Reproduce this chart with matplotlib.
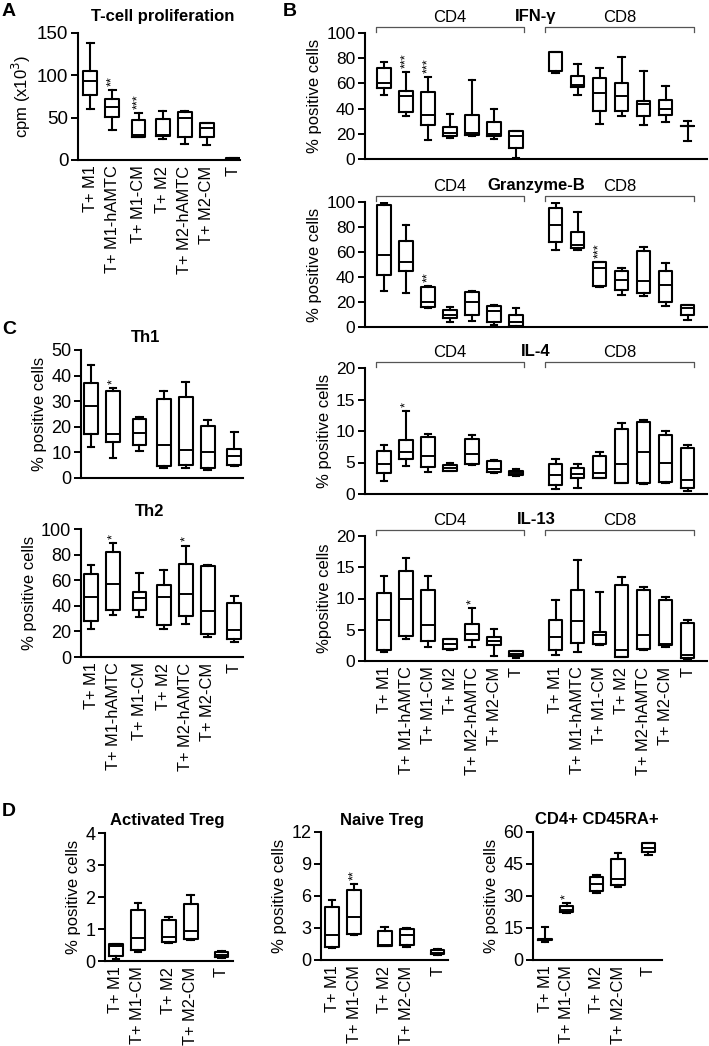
import matplotlib
matplotlib.use("Agg")
import matplotlib.pyplot as plt
import matplotlib.transforms as mtransforms

plt.rcParams['font.family'] = ['Liberation Sans', 'DejaVu Sans']

W, H = 709, 1046

# labels
groups7 = ["T+ M1", "T+ M1-hAMTC", "T+ M1-CM", "T+ M2", "T+ M2-hAMTC", "T+ M2-CM", "T"]
groups5 = ["T+ M1", "T+ M1-CM", "T+ M2", "T+ M2-CM", "T"]

# box stats: (whisker low, q1, median, q3, whisker high)
prolif = [(60, 77, 93, 105, 138), (35, 51, 63, 72, 83), (27, 27, 29, 47, 55),
          (25, 28, 29, 48, 58), (19, 27, 50, 57, 58), (18, 27, 38, 44, 44), (0.5, 1, 1.5, 2, 2)]
prolif_stars = {1: "**", 2: "***"}

ifng_cd4 = [(51, 56, 60, 72, 77), (34, 37, 50, 54, 69), (15, 27, 35, 53, 65),
            (17, 18, 21, 25, 36), (18, 19, 21, 35, 63), (16, 18, 20, 29, 40), (1, 9, 18, 22, 22)]
ifng_cd8 = [(68, 70, 70, 85, 85), (51, 57, 59, 66, 75), (28, 38, 52, 64, 72),
            (34, 38, 50, 60, 81), (27, 34, 44, 46, 70), (29, 35, 40, 47, 58), (14, 26, 26, 26, 30)]
ifng_stars = {1: "***", 2: "***"}

grb_cd4 = [(29, 42, 58, 98, 99), (27, 45, 52, 69, 82), (15, 16, 20, 32, 33),
           (4, 7, 10, 14, 16), (5, 10, 20, 28, 29), (2, 4, 13, 17, 18), (0, 1, 4, 10, 15)]
grb_cd8 = [(62, 68, 82, 95, 99), (62, 63, 66, 76, 92), (32, 33, 47, 52, 52),
           (26, 30, 38, 45, 47), (25, 27, 37, 61, 64), (17, 20, 34, 45, 51), (6, 10, 15, 18, 18)]
grb_stars = {2: "**", 9: "***"}

il4_cd4 = [(2, 3.3, 4.8, 6.8, 7.7), (4.5, 5.5, 6.6, 8.6, 13.2), (3.5, 4.3, 6.1, 9.1, 9.6),
           (3.6, 3.7, 4.1, 4.6, 4.9), (4.6, 4.8, 6.3, 8.8, 9.4), (3.4, 3.5, 4.0, 5.2, 5.4),
           (2.9, 3.0, 3.3, 3.7, 3.9)]
il4_cd8 = [(0.8, 1.5, 3.0, 4.7, 5.5), (0.9, 2.5, 3.2, 4.2, 4.8), (2.5, 2.5, 3.3, 6.0, 6.6),
           (1.8, 1.8, 4.8, 10.3, 11.2), (1.6, 1.7, 6.7, 11.5, 11.7), (1.8, 1.9, 5.0, 9.3, 10.0),
           (0.5, 0.9, 2.3, 7.3, 7.7)]
il4_stars = {1: "*"}

il13_cd4 = [(1.5, 1.8, 6.6, 10.9, 13.6), (3.6, 4.0, 10.0, 14.4, 16.5), (2.2, 3.2, 5.8, 11.3, 13.6),
            (1.8, 2.0, 2.7, 3.5, 3.5), (2.2, 3.4, 4.4, 5.9, 8.5), (0.8, 2.5, 3.2, 3.9, 5.1),
            (0.5, 0.8, 1.2, 1.6, 1.6)]
il13_cd8 = [(1.0, 1.7, 3.8, 6.5, 9.7), (1.5, 2.9, 6.4, 11.3, 16.2), (2.6, 2.8, 4.2, 4.7, 11.0),
            (0.7, 0.7, 1.8, 12.1, 13.4), (1.7, 2.0, 4.1, 11.4, 11.8), (2.2, 2.6, 2.8, 9.7, 10.3),
            (0.2, 0.5, 1.0, 6.1, 6.5)]
il13_stars = {4: "*"}

th1 = [(12, 17, 28, 37, 44), (8, 14, 17, 34, 35), (10.5, 13, 17.5, 23, 24), (4, 4.5, 13, 31, 34),
       (4, 5, 11, 31.5, 37.5), (3, 4, 10, 20.5, 22.5), (4.5, 5, 8.5, 11.5, 18)]
th1_stars = {1: "*"}

th2 = [(22, 28, 47, 65, 72), (33, 37, 57, 82, 89), (31, 37, 46, 51, 66), (22, 25, 47, 56, 68),
       (26, 32, 49, 73, 87), (16, 18, 36, 71, 72), (12, 14, 21, 42, 48)]
th2_stars = {1: "*", 4: "*"}

act_treg = [(0.07, 0.15, 0.48, 0.52, 0.52), (0.28, 0.33, 0.73, 1.6, 1.81), (0.57, 0.59, 0.75, 1.29, 1.375),
            (0.65, 0.7, 0.94, 1.79, 2.06), (0.1, 0.125, 0.18, 0.27, 0.31)]
naive_treg = [(1.1, 1.2, 2.3, 5.0, 5.6), (2.3, 2.4, 4.0, 6.6, 7.1), (1.3, 1.3, 1.4, 2.7, 3.1),
              (1.2, 1.4, 2.3, 2.9, 3.0), (0.5, 0.55, 0.7, 0.9, 1.05)]
naive_stars = {1: "**"}
cd45ra = [(8.5, 9.5, 9.8, 10, 15.5), (22, 22.5, 23.5, 25.5, 26.5), (31.5, 32.5, 35.5, 39, 40),
          (34, 35, 38, 47.5, 50), (49, 50.5, 52.5, 55, 55)]
cd45ra_stars = {1: "*"}

pos7 = [1, 2, 3.2, 4.3, 5.3, 6.3, 7.5]
pos14 = [1, 2, 3, 4, 5, 6, 7, 8.8, 9.8, 10.8, 11.8, 12.8, 13.8, 14.8]
pos5 = [1, 2, 3.4, 4.4, 5.8]

fig = plt.figure(figsize=(W / 100, H / 100), dpi=100)


def add_ax(l, t, r, b):
    return fig.add_axes([l / W, 1 - b / H, (r - l) / W, (b - t) / H])


def ftext(x, y, s, **kw):
    fig.text(x / W, 1 - y / H, s, **kw)


def boxes(ax, stats, pos, labels, xlim, ylim, yticks, ylabel, stars, fs_tick=13):
    st = [dict(whislo=s[0], q1=s[1], med=s[2], q3=s[3], whishi=s[4], fliers=[]) for s in stats]
    lp = dict(color='black', linewidth=1.5)
    ax.bxp(st, positions=pos, widths=0.62, showfliers=False, boxprops=lp,
           medianprops=dict(color='black', linewidth=1.4), whiskerprops=lp, capprops=lp)
    for i, s in stars.items():
        ax.annotate(s, (pos[i], stats[i][4]), xytext=(0, 3), textcoords='offset points',
                    ha='center', va='bottom', rotation=90, fontsize=9)
    ax.set_xlim(*xlim)
    ax.set_ylim(*ylim)
    ax.set_yticks(yticks)
    ax.set_xticks(pos)
    ax.set_xticklabels(labels, rotation=90, fontsize=11.8)
    ax.tick_params(axis='x', length=0, pad=4)
    ax.tick_params(axis='y', length=5, width=1.4, labelsize=fs_tick, pad=2)
    ax.set_ylabel(ylabel, fontsize=12, labelpad=3)
    for sp in ['top', 'right']:
        ax.spines[sp].set_visible(False)
    for sp in ['left', 'bottom']:
        ax.spines[sp].set_linewidth(1.5)


def bracket(ax, x0, x1, label):
    tr = mtransforms.blended_transform_factory(ax.transData, ax.transAxes)
    y = 1.045
    ax.plot([x0, x0, x1, x1], [y - 0.035, y, y, y - 0.035], color='#555555', lw=0.9,
            transform=tr, clip_on=False)
    ax.text((x0 + x1) / 2, y + 0.02, label, transform=tr, ha='center', va='bottom', fontsize=12)


# Panel A
axA = add_ax(78, 33, 240, 160)
boxes(axA, prolif, pos7, groups7, (0.45, 7.81), (0, 150), [0, 50, 100, 150],
      "cpm (x10$^3$)", prolif_stars, fs_tick=13.5)
ftext(163, 16, "T-cell proliferation", ha='center', va='center', fontsize=12, fontweight='bold')

# Panel B
b_rows = [(33, 159, ifng_cd4 + ifng_cd8, ifng_stars, "IFN-γ", (0, 100), range(0, 101, 20), "% positive cells"),
          (202, 327, grb_cd4 + grb_cd8, grb_stars, "Granzyme-B", (0, 100), range(0, 101, 20), "% positive cells"),
          (368, 494, il4_cd4 + il4_cd8, il4_stars, "IL-4", (0, 20), range(0, 21, 5), "% positive cells"),
          (536, 661, il13_cd4 + il13_cd8, il13_stars, "IL-13", (0, 20), range(0, 21, 5), "%positive cells")]
for k, (t, b, data, stars, title, ylim, yt, yl) in enumerate(b_rows):
    ax = add_ax(365, t, 707, b)
    labels = groups7 + groups7 if k == 3 else [""] * 14
    boxes(ax, data, pos14, labels, (0.136, 15.68), ylim, list(yt), yl, stars, fs_tick=12.5)
    bracket(ax, 0.64, 7.36, "CD4")
    bracket(ax, 8.32, 15.09, "CD8")
    tr = mtransforms.blended_transform_factory(ax.transData, ax.transAxes)
    ax.text(7.9, 1.075, title, transform=tr, ha='center', va='bottom', fontsize=12,
            fontweight='bold')

# Panel C
axC1 = add_ax(81, 350, 243, 478)
boxes(axC1, th1, pos7, [""] * 7, (0.545, 7.9), (0, 50), range(0, 51, 10), "% positive cells", th1_stars)
ftext(146, 337, "Th1", ha='center', va='center', fontsize=12, fontweight='bold')
axC2 = add_ax(81, 529, 243, 657)
boxes(axC2, th2, pos7, groups7, (0.545, 7.9), (0, 100), range(0, 101, 20), "% positive cells", th2_stars)
ftext(150, 512, "Th2", ha='center', va='center', fontsize=12, fontweight='bold')

# Panel D
axD1 = add_ax(105, 833, 233, 961)
boxes(axD1, act_treg, pos5, groups5, (0.5, 6.32), (0, 4), range(0, 5), "% positive cells", {})
ftext(167, 821, "Activated Treg", ha='center', va='center', fontsize=12, fontweight='bold')
axD2 = add_ax(321, 832, 448, 960)
boxes(axD2, naive_treg, pos5, groups5, (0.5, 6.27), (0, 12), range(0, 13, 3), "% positive cells", naive_stars)
ftext(382, 820, "Naive Treg", ha='center', va='center', fontsize=12, fontweight='bold')
axD3 = add_ax(533, 832, 662, 960)
boxes(axD3, cd45ra, pos5, groups5, (0.44, 6.44), (0, 60), range(0, 61, 15), "% positive cells", cd45ra_stars)
ftext(597, 819, "CD4+ CD45RA+", ha='center', va='center', fontsize=12, fontweight='bold')

# panel letters
for x, y, s in [(9, 12, "A"), (290, 11, "B"), (9, 329, "C"), (9, 811, "D")]:
    ftext(x, y, s, ha='center', va='center', fontsize=14, fontweight='bold')

fig.savefig("out.png", dpi=100)
